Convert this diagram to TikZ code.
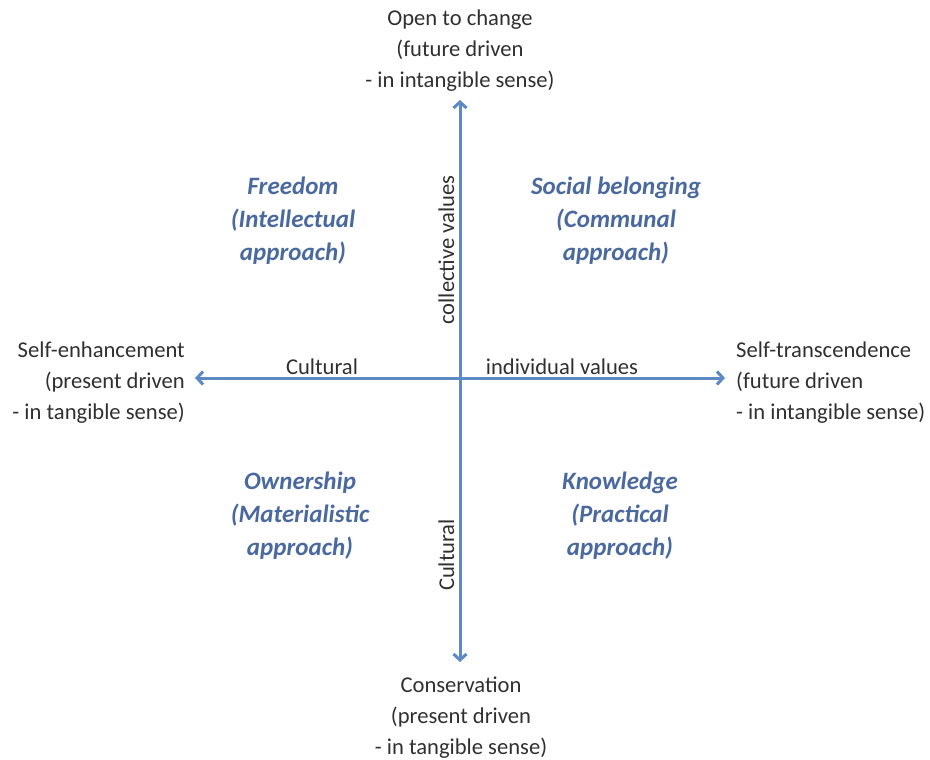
\documentclass[tikz,border=0pt]{standalone}
\usepackage{fontspec}
\setmainfont{Carlito}
\usepackage{xcolor}
\usetikzlibrary{arrows.meta}
\usetikzlibrary{positioning}
\definecolor{axisblue}{HTML}{5B8AC5}
\definecolor{quadblue}{HTML}{4A6A9F}
\definecolor{textgray}{HTML}{303030}
\tikzset{	x=1pt, y=1pt,
	every node/.style={
		font=\fontsize{22.6}{31}\selectfont,
		text=textgray,
		inner sep=0pt},
	pole/.style={align=center},
	quad/.style={
		align=center,
		text=quadblue,
		font=\fontsize{25}{33}\selectfont\bfseries\itshape},
	axis/.style={
		draw=axisblue,
		line width=3pt,
		{Straight Barb[length=6pt,width=13pt]}-{Straight Barb[length=6pt,width=13pt]}}
}

\begin{document}
\begin{tikzpicture}
				\useasboundingbox (0,0) rectangle (930,-760);
				\coordinate (west) at (195,-378);
				\coordinate (east) at (725,-378);
				\coordinate (north) at (460,-100);
				\coordinate (south) at (460,-662);
				\node[pole] (open) at (460,-51) {Open to change\\(future driven\\- in intangible sense)};
				\node[pole] (conserv) at (461,-718) {Conservation\\(present driven\\- in tangible sense)};
				\node[pole, align=right, anchor=east] (enhance) at (185,-383) {Self-enhancement\\(present driven\\- in tangible sense)};
				\node[pole, align=left, anchor=west] (transc) at (736,-383) {Self-transcendence\\(future driven\\- in intangible sense)};
				\node[quad] (freedom) at (293,-221) {Freedom\\(Intellectual\\approach)};
				\node[quad] (social) at (616,-221) {Social belonging\\(Communal\\approach)};
				\node[quad] (owner) at (300,-516) {Ownership\\(Materialistic\\approach)};
				\node[quad] (know) at (620,-516) {Knowledge\\(Practical\\approach)};
				\draw[axis] (west) -- (east);
				\draw[axis] (south) -- (north);
				\node[anchor=base] (cultw) at (322,-374) {Cultural};
				\node[anchor=base] (indiv) at (562,-374) {individual values};
				\node[anchor=base, rotate=90] (collect) at (454,-250) {collective values};
				\node[anchor=base, rotate=90] (cults) at (454,-555) {Cultural};
			\end{tikzpicture}
\end{document}
